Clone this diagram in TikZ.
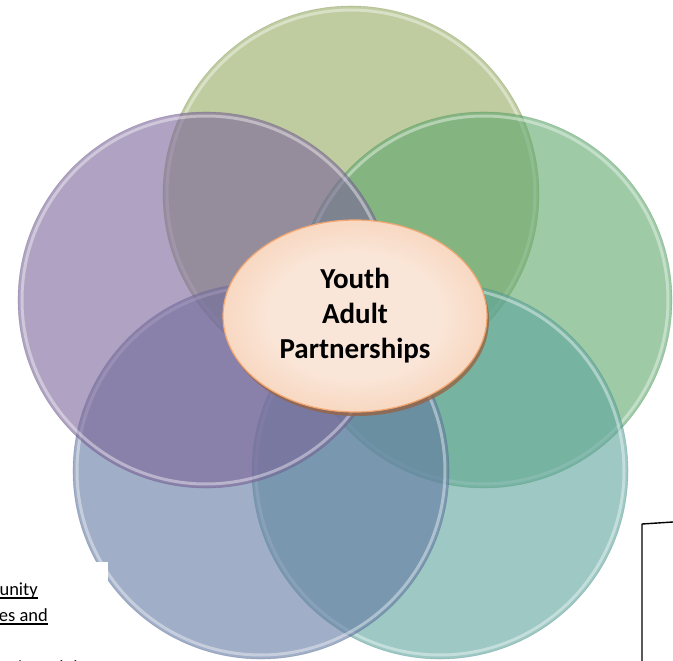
\documentclass[tikz,border=0pt]{standalone}
\usepackage{fontspec}
\setmainfont{Carlito}
\usetikzlibrary{shapes.geometric,shadows}

% disc colours (laid down at 60% opacity)
\definecolor{olivedisc}{RGB}{148,170,97}
\definecolor{greendisc}{RGB}{93,167,107}
\definecolor{tealdisc}{RGB}{92,163,157}
\definecolor{slatedisc}{RGB}{97,120,163}
\definecolor{plumdisc}{RGB}{123,100,153}
\definecolor{peachlight}{RGB}{250,230,216}
\definecolor{peachdeep}{RGB}{244,186,146}
\definecolor{peachedge}{RGB}{242,166,112}
\definecolor{peachshadow}{RGB}{150,100,70}

\pgfdeclareradialshading{peachglow}{\pgfpoint{0bp}{0bp}}{%
  color(0bp)=(peachlight); color(16bp)=(peachlight);
  color(44bp)=(peachdeep); color(50bp)=(peachdeep)}

\begin{document}
\begin{tikzpicture}[x=1pt,y=-1pt,line join=round,line cap=round,
    disc/.style={fill=#1,fill opacity=.6},
    rim/.style={draw=white,opacity=.4,line width=3pt},
    edge/.style={draw=#1!75!black,opacity=.3,line width=.6pt},
    hub/.style={ellipse,minimum width=264pt,minimum height=192pt,inner sep=0pt,
      shading=peachglow,draw=peachedge,line width=1.2pt,
      drop shadow={shadow xshift=2pt,shadow yshift=-4pt,fill=peachshadow,opacity=.8},
      align=center,font=\bfseries\fontsize{29}{35}\selectfont},
    note/.style={inner sep=0pt,font=\fontsize{18.5}{26}\selectfont},
    underl/.style={line width=1.1pt,line cap=butt}]
  \useasboundingbox (0,0) rectangle (673,661);

  % five overlapping discs, each one laid over the one before
  \foreach \cx/\cy/\col in {351/194/olivedisc,484/300/greendisc,440/471/tealdisc,
                            261/471/slatedisc,206/300/plumdisc}{
    \fill[disc=\col] (\cx,\cy) circle (188pt);
    \draw[rim] (\cx,\cy) circle (184pt);
    \draw[edge=\col] (\cx,\cy) circle (188pt);
  }

  % centre label
  \node[hub] (hub) at (355,316) {Youth\\Adult\\Partnerships};

  % text box on the left
  \fill[white] (0,562) rectangle (108,661);
  \node[note,anchor=base east] (unity) at (38,595) {unity};
  \node[note,anchor=base east] (esand) at (48,621) {es and};
  \node[note,anchor=base east] (adult) at (84,673) {toring adult};
  \draw[underl] ([yshift=-3pt]unity.base west) -- ([yshift=-3pt]unity.base east);
  \draw[underl] ([yshift=-3pt]esand.base west) -- ([yshift=-3pt]esand.base east);

  % text box on the right
  \coordinate (boxbl) at (642,661);
  \coordinate (boxtl) at (642,524);
  \coordinate (boxtr) at (673,522);
  \draw[line width=1.4pt] (boxbl) -- (boxtl) -- (boxtr);
\end{tikzpicture}
\end{document}
